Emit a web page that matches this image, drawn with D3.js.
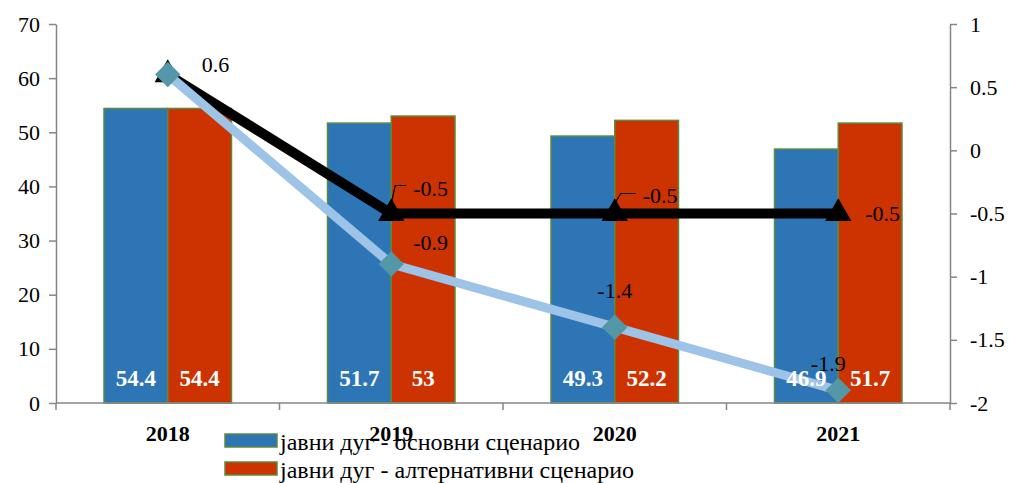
<!DOCTYPE html>
<html>
<head>
<meta charset="utf-8">
<script src="https://cdn.jsdelivr.net/npm/d3@7"></script>
<style>
	body { margin: 0; background: #fff; }
	svg, svg text { font-family: 'Liberation Serif', 'Times New Roman', serif !important; }
	.axis path, .axis line { stroke: #868686; stroke-width: 1.5; }
</style>
</head>
<body>
<div id="chart-area"></div>
<script>

// chart data
let years = ["2018", "2019", "2020", "2021"];
let debtBase = [54.4, 51.7, 49.3, 46.9];
let debtAlt = [54.4, 53, 52.2, 51.7];
let balanceBlack = [0.6, -0.5, -0.5, -0.5];
let balanceBlue = [0.6, -0.9, -1.4, -1.9];
let leftTicks = [0, 10, 20, 30, 40, 50, 60, 70];
let rightTicks = [-2, -1.5, -1, -0.5, 0, 0.5, 1];
let legendLabels = ["јавни дуг - основни сценарио", "јавни дуг - алтернативни сценарио"];

// margin conventions
let margin = {top: 24, right: 60, bottom: 80, left: 56};
let width = 1010 - margin.left - margin.right;
let height = 483 - margin.top - margin.bottom;

let svg = d3.select("#chart-area").append("svg")
		.attr("width", 1010)
		.attr("height", 483)
		.attr("font-family", "'Liberation Serif', serif")
	.append("g")
		.attr("transform", "translate(" + margin.left + "," + margin.top + ")");

// scales
let x = d3.scaleBand().domain(years).range([0, width]);
let xSub = d3.scaleBand().domain([0, 1]).range([48, x.bandwidth() - 48]);
let y = d3.scaleLinear().domain([0, 70]).range([height, 0]);
let y2 = d3.scaleLinear().domain([-2, 1]).range([height, 0]);

let blue = "#2e75b6", red = "#cc3300", edge = "#5b8a3c";

// bars
let series = [debtBase, debtAlt];
let colors = [blue, red];
series.forEach((vals, s) => {
	svg.selectAll(".bar-" + s)
		.data(vals)
		.enter().append("rect")
		.attr("class", "bar-" + s)
		.attr("x", (d, i) => x(years[i]) + xSub(s))
		.attr("y", d => y(d))
		.attr("width", xSub.bandwidth())
		.attr("height", d => height - y(d))
		.attr("fill", colors[s])
		.attr("stroke", edge)
		.attr("stroke-width", 1.5);
});

// axes
let xAxis = svg.append("g")
	.attr("class", "axis")
	.attr("transform", "translate(0," + height + ")");
xAxis.append("path").attr("d", "M0,0H" + width);
xAxis.selectAll("line")
	.data(d3.range(years.length + 1))
	.enter().append("line")
	.attr("x1", i => i * x.step()).attr("x2", i => i * x.step())
	.attr("y1", 0).attr("y2", 7);

let yAxis = svg.append("g")
	.attr("class", "axis")
	.call(d3.axisLeft(y).tickValues(leftTicks).tickSize(7).tickSizeOuter(0).tickPadding(9));

let y2Axis = svg.append("g")
	.attr("class", "axis")
	.attr("transform", "translate(" + width + ",0)")
	.call(d3.axisRight(y2).tickValues(rightTicks).tickSize(7).tickSizeOuter(0).tickPadding(13).tickFormat(d => String(d)));

svg.selectAll(".axis").attr("font-family", null);
svg.selectAll(".axis text")
	.attr("font-size", 22)
	.attr("fill", "#000");

// category labels
svg.selectAll(".cat")
	.data(years)
	.enter().append("text")
	.attr("class", "cat")
	.attr("x", d => x(d) + x.bandwidth() / 2)
	.attr("y", height + 38)
	.attr("text-anchor", "middle")
	.attr("font-size", 22)
	.attr("font-weight", "bold")
	.text(d => d);

// lines
let cx = i => x(years[i]) + x.bandwidth() / 2;
let line = d3.line()
	.x((d, i) => cx(i))
	.y(d => y2(d));

svg.append("path")
	.datum(balanceBlack)
	.attr("d", line)
	.attr("fill", "none")
	.attr("stroke", "#000")
	.attr("stroke-width", 10)
	.attr("stroke-linejoin", "round");

svg.selectAll(".tri")
	.data(balanceBlack)
	.enter().append("path")
	.attr("class", "tri")
	.attr("transform", (d, i) => "translate(" + cx(i) + "," + y2(d) + ")")
	.attr("d", d3.symbol().type(d3.symbolTriangle).size(300))
	.attr("fill", "#000");

svg.append("path")
	.datum(balanceBlue)
	.attr("d", line)
	.attr("fill", "none")
	.attr("stroke", "#9dc3e6")
	.attr("stroke-width", 9)
	.attr("stroke-linejoin", "round");

// bar value labels
series.forEach((vals, s) => {
	svg.selectAll(".blabel-" + s)
		.data(vals)
		.enter().append("text")
		.attr("class", "blabel-" + s)
		.attr("x", (d, i) => x(years[i]) + xSub(s) + xSub.bandwidth() / 2)
		.attr("y", height - 17)
		.attr("text-anchor", "middle")
		.attr("font-size", 23)
		.attr("font-weight", "bold")
		.attr("fill", "#fff")
		.text(d => d);
});

svg.selectAll(".dia")
	.data(balanceBlue)
	.enter().append("rect")
	.attr("class", "dia")
	.attr("x", -9).attr("y", -9)
	.attr("width", 18).attr("height", 18)
	.attr("transform", (d, i) => "translate(" + cx(i) + "," + y2(d) + ") rotate(45)")
	.attr("fill", "#5397a8");

// line value labels (offsets from the point, anchor)
let blackOffsets = [[34, -10, "start"], [22, -25, "start"], [28, -18, "start"], [27, 0, "start"]];
let blueOffsets = [null, [22, -22, "start"], [0, -37, "middle"], [-10, -27, "middle"]];

function lineLabels(vals, offsets) {
	vals.forEach((d, i) => {
		let o = offsets[i];
		if (!o) return;
		svg.append("text")
			.attr("x", cx(i) + o[0])
			.attr("y", y2(d) + o[1])
			.attr("dy", "0.35em")
			.attr("text-anchor", o[2])
			.attr("font-size", 22)
			.text(String(d));
	});
}
lineLabels(balanceBlack, blackOffsets);
lineLabels(balanceBlue, blueOffsets);

// leader lines for two -0.5 labels
[[1, 4, 18, 15], [2, 6, 10, 21]].forEach(l => {
	let px = cx(l[0]), py = y2(balanceBlack[l[0]]) - 10;
	svg.append("path")
		.attr("d", "M" + px + "," + py + "L" + (px + l[1]) + "," + (py - l[2]) + "H" + (px + l[3]))
		.attr("fill", "none")
		.attr("stroke", "#000")
		.attr("stroke-width", 1.2);
});

// legend
let legend = svg.append("g")
	.attr("transform", "translate(" + (225 - margin.left) + "," + (height + 31) + ")");
legendLabels.forEach((label, i) => {
	legend.append("rect")
		.attr("x", 0).attr("y", i * 28)
		.attr("width", 52).attr("height", 13)
		.attr("fill", colors[i])
		.attr("stroke", edge)
		.attr("stroke-width", 1.5);
	legend.append("text")
		.attr("x", 55).attr("y", i * 28 + 8)
		.attr("dy", "0.35em")
		.attr("font-size", 24)
		.text(label);
});

</script>
</body>
</html>
